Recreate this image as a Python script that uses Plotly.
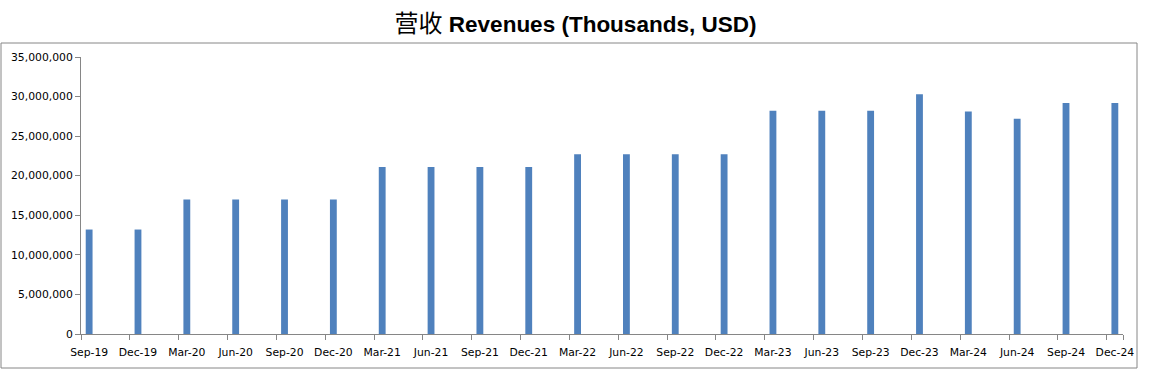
import plotly.graph_objects as go

quarters = ["Sep-19", "Dec-19", "Mar-20", "Jun-20", "Sep-20", "Dec-20",
            "Mar-21", "Jun-21", "Sep-21", "Dec-21", "Mar-22", "Jun-22",
            "Sep-22", "Dec-22", "Mar-23", "Jun-23", "Sep-23", "Dec-23",
            "Mar-24", "Jun-24", "Sep-24", "Dec-24"]
revenues = [13200000, 13200000, 17000000, 17000000, 17000000, 17000000,
            21100000, 21100000, 21100000, 21100000, 22700000, 22700000,
            22700000, 22700000, 28200000, 28200000, 28200000, 30300000,
            28100000, 27200000, 29200000, 29200000]
y_ticks = [0, 5000000, 10000000, 15000000, 20000000, 25000000, 30000000, 35000000]

# month index of each quarter-end (date axis with monthly base unit)
months = [3 * i for i in range(len(quarters))]
quarter_starts = [m - 0.5 for m in months] + [months[-1] + 0.5]

fig = go.Figure()
fig.add_trace(go.Bar(
    x=months, y=revenues, width=0.42,
    marker=dict(color="#4F81BD", line=dict(width=0)),
    hoverinfo="x+y",
))

axis_color = "#868686"
tick_font = dict(family="DejaVu Sans", size=10.8, color="black")
fig.update_layout(
    width=1151, height=373,
    margin=dict(l=81, r=28, t=57, b=39),
    paper_bgcolor="white", plot_bgcolor="white",
    showlegend=False,
    title=dict(
        text=("<span style=\"font-family:'Noto Sans CJK SC';font-size:24px\">营收</span>"
              " <b>Revenues (Thousands, USD)</b>"),
        x=0.5, xanchor="center", xref="container",
        y=1 - 24 / 373, yanchor="middle", yref="container",
        font=dict(family="'Liberation Sans', Arial, sans-serif", size=22.5, color="black"),
    ),
    xaxis=dict(
        range=[-0.5, 63.5],
        tickmode="array", tickvals=months, ticktext=quarters,
        ticks="", showgrid=False, zeroline=False,
        showline=True, linecolor=axis_color, linewidth=1,
        tickfont=tick_font, ticklabelstandoff=8,
        minor=dict(tickmode="array", tickvals=quarter_starts, ticks="outside",
                   ticklen=5, tickcolor=axis_color, showgrid=False),
        fixedrange=True,
    ),
    yaxis=dict(
        range=[0, 35000000],
        tickmode="array", tickvals=y_ticks,
        tickformat=",d",
        ticks="outside", ticklen=5, tickcolor=axis_color,
        showgrid=False, zeroline=False,
        showline=True, linecolor=axis_color, linewidth=1,
        tickfont=tick_font,
        fixedrange=True,
    ),
    shapes=[dict(
        type="rect", xref="paper", yref="paper",
        x0=(1 - 81) / 1042, x1=(1137 - 81) / 1042,
        y0=(334 - 368) / 277, y1=(334 - 43) / 277,
        line=dict(color=axis_color, width=1), fillcolor="rgba(0,0,0,0)",
        layer="below",
    )],
)

fig.write_html(
    "out.html",
    config={"displayModeBar": False},
    post_script="document.body.style.margin='0';document.body.style.overflow='hidden';",
)
